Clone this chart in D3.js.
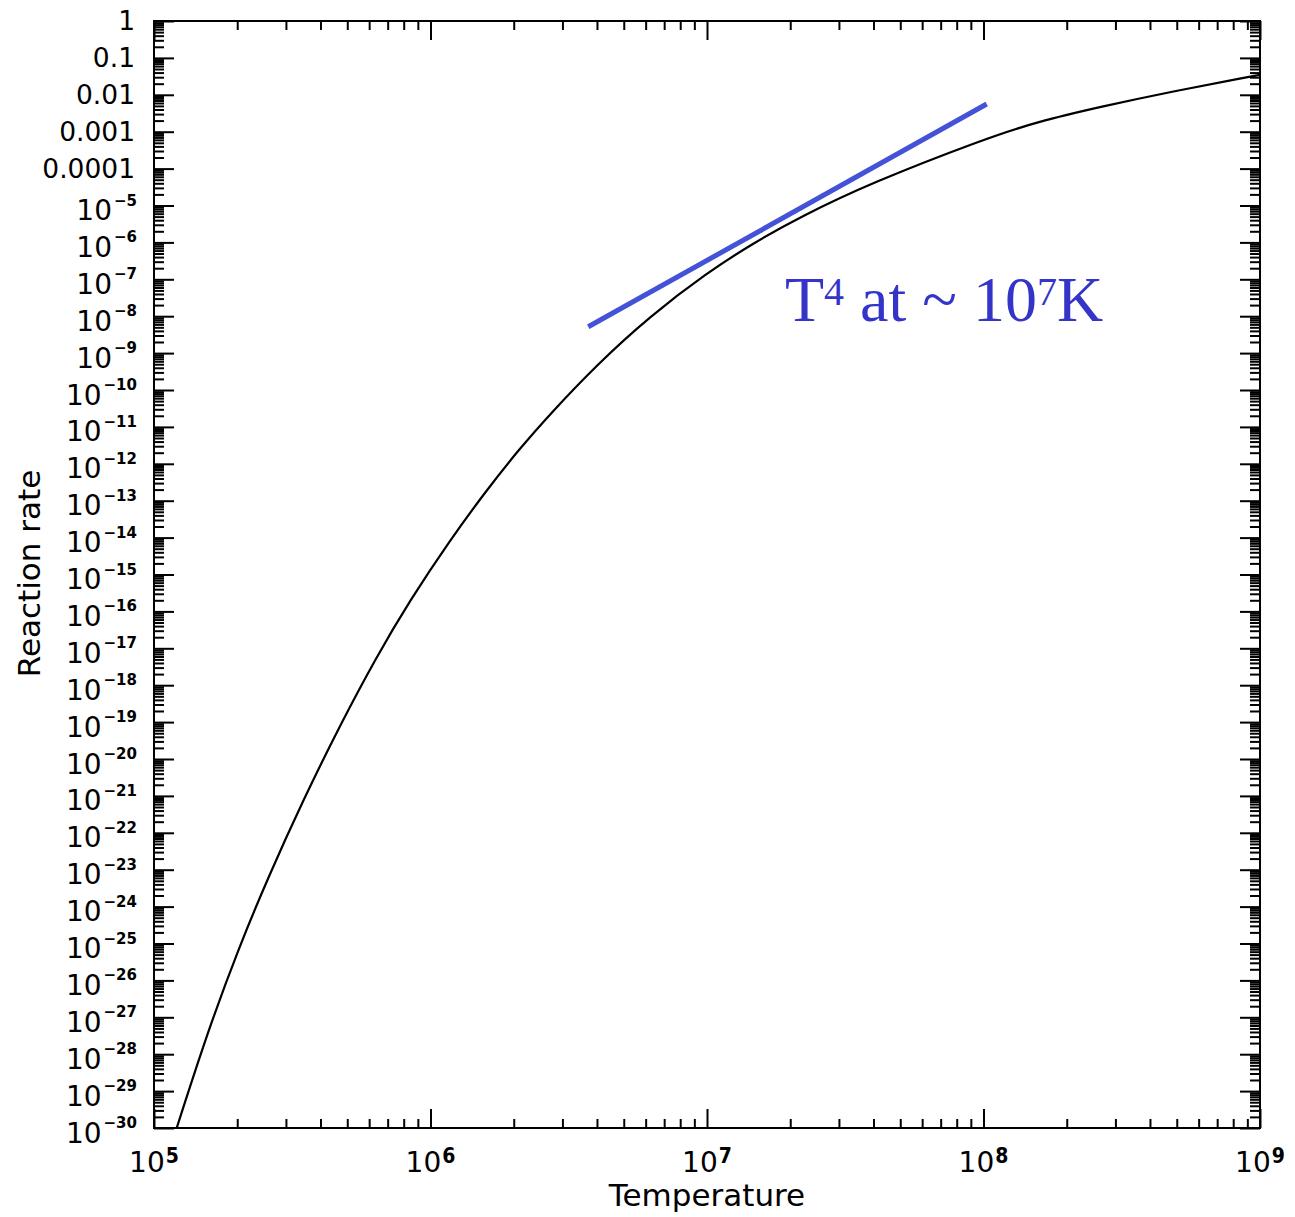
<!DOCTYPE html>
<html>
<head>
<meta charset="utf-8">
<script src="https://cdn.jsdelivr.net/npm/d3@7"></script>
<style>
  html, body { margin: 0; padding: 0; background: #fff; }
  svg { display: block; }
</style>
</head>
<body>
<svg id="chart" width="1295" height="1217"></svg>
<script>
// ---- data ----
const temperature = [1.208e5, 1.571e5, 2.018e5, 2.59e5, 3.46e5, 4.71e5, 6.38e5, 8.43e5,
  1.176e6, 1.597e6, 2.078e6, 2.704e6, 3.99e6, 6.22e6, 9.98e6, 1.47e7, 2.17e7, 3.89e7,
  1.0e8, 1.557e8, 2.71e8, 4.73e8, 9.2e8, 1.0e9];
const reactionRate = [1.0e-30, 4.47e-28, 7.1e-26, 6.3e-24, 7.6e-22, 8.3e-20, 5.9e-18, 2.0e-16,
  8.5e-15, 1.95e-13, 2.34e-12, 2.22e-11, 4.8e-10, 1.0e-8, 1.48e-7, 9.6e-7, 4.86e-6, 4.0e-5,
  6.2e-4, 1.85e-3, 4.9e-3, 1.2e-2, 3.1e-2, 3.46e-2];
const powerLawT = [3.72e6, 1.027e8];
const powerLawRate = [5.16e-9, 5.62e-3];
const xTickExponents = [5, 6, 7, 8, 9];
const yDecimalLabels = ["1", "0.1", "0.01", "0.001", "0.0001"];
const yTickExponents = d3.range(0, -31, -1);
const annotation = { base: "T", sup1: "4", mid: " at ~ 10", sup2: "7", tail: "K" };
const xTitle = "Temperature";
const yTitle = "Reaction rate";

// ---- layout ----
const L = 154, R = 1260, T = 21, B = 1128;
const svg = d3.select("#chart");
const x = d3.scaleLog().domain([1e5, 1e9]).range([L, R]);
const y = d3.scaleLog().domain([1e-30, 1]).range([B, T]);

const xMajor = xTickExponents.map(e => Math.pow(10, e));
const xMinor = [];
for (let e = 5; e < 9; e++) for (let k = 2; k <= 9; k++) xMinor.push(k * Math.pow(10, e));
const yMajor = yTickExponents.map(e => Math.pow(10, e));
const yMinor = [];
for (let e = -30; e < 0; e++) for (let k = 2; k <= 9; k++) yMinor.push(k * Math.pow(10, e));

function styleAxis(g) {
  g.select(".domain").remove();
  g.selectAll(".tick line").attr("stroke", "#000").attr("stroke-width", 2);
  g.selectAll(".tick text").remove();
}
// bottom
svg.append("g").attr("transform", `translate(0,${B})`)
  .call(d3.axisBottom(x).tickValues(xMajor).tickSize(-19).tickFormat(() => "")).call(styleAxis);
svg.append("g").attr("transform", `translate(0,${B})`)
  .call(d3.axisBottom(x).tickValues(xMinor).tickSize(-9).tickFormat(() => "")).call(styleAxis);
// top
svg.append("g").attr("transform", `translate(0,${T})`)
  .call(d3.axisTop(x).tickValues(xMajor).tickSize(-19).tickFormat(() => "")).call(styleAxis);
svg.append("g").attr("transform", `translate(0,${T})`)
  .call(d3.axisTop(x).tickValues(xMinor).tickSize(-9).tickFormat(() => "")).call(styleAxis);
// left
svg.append("g").attr("transform", `translate(${L},0)`)
  .call(d3.axisLeft(y).tickValues(yMajor).tickSize(-20).tickFormat(() => "")).call(styleAxis);
svg.append("g").attr("transform", `translate(${L},0)`)
  .call(d3.axisLeft(y).tickValues(yMinor).tickSize(-10).tickFormat(() => "")).call(styleAxis);
// right
svg.append("g").attr("transform", `translate(${R},0)`)
  .call(d3.axisRight(y).tickValues(yMajor).tickSize(-20).tickFormat(() => "")).call(styleAxis);
svg.append("g").attr("transform", `translate(${R},0)`)
  .call(d3.axisRight(y).tickValues(yMinor).tickSize(-10).tickFormat(() => "")).call(styleAxis);

// frame
svg.append("rect").attr("x", L).attr("y", T).attr("width", R - L).attr("height", B - T)
  .attr("fill", "none").attr("stroke", "#000").attr("stroke-width", 2);

// x tick labels
const font = "'DejaVu Sans', sans-serif";
xTickExponents.forEach(e => {
  const t = svg.append("text").attr("x", x(Math.pow(10, e))).attr("y", B + 44)
    .attr("text-anchor", "middle").attr("font-family", font).attr("fill", "#000");
  t.append("tspan").attr("font-size", 28).text("10");
  t.append("tspan").attr("font-size", 21).attr("font-weight", "bold")
    .attr("font-stretch", "condensed").attr("dy", -9).attr("dx", 1).text(String(e));
});

// y tick labels
yTickExponents.forEach((e, i) => {
  const yy = y(Math.pow(10, e));
  if (i < yDecimalLabels.length) {
    svg.append("text").attr("x", 135).attr("y", yy + 9)
      .attr("text-anchor", "end").attr("font-family", font).attr("font-size", 26.5)
      .attr("fill", "#000").text(yDecimalLabels[i]);
  } else {
    const t = svg.append("text").attr("x", 137).attr("y", yy + 14.5)
      .attr("text-anchor", "end").attr("font-family", font).attr("fill", "#000");
    t.append("tspan").attr("font-size", 28).text("10");
    t.append("tspan").attr("font-size", 15).attr("font-weight", "bold")
      .attr("dy", -14.5).attr("dx", 2).text("\u2212" + String(-e));
  }
});

// axis titles
svg.append("text").attr("x", (L + R) / 2).attr("y", 1206)
  .attr("text-anchor", "middle").attr("font-family", font).attr("font-size", 31)
  .attr("font-weight", 500).attr("fill", "#000").text(xTitle);
svg.append("text").attr("transform", `translate(40,${(T + B) / 2 - 1}) rotate(-90)`)
  .attr("text-anchor", "middle").attr("font-family", font).attr("font-size", 31)
  .attr("font-weight", 500).attr("fill", "#000").text(yTitle);

// clip
svg.append("clipPath").attr("id", "plotclip").append("rect")
  .attr("x", L).attr("y", T).attr("width", R - L).attr("height", B - T);

// curve
const pts = temperature.map((t, i) => [t, reactionRate[i]]);
svg.append("path").datum(pts).attr("clip-path", "url(#plotclip)")
  .attr("d", d3.line().x(d => x(d[0])).y(d => y(d[1])).curve(d3.curveBasis))
  .attr("fill", "none").attr("stroke", "#000").attr("stroke-width", 2.2);

// power-law line
const pl = powerLawT.map((t, i) => [t, powerLawRate[i]]);
svg.append("path").datum(pl)
  .attr("d", d3.line().x(d => x(d[0])).y(d => y(d[1])))
  .attr("fill", "none").attr("stroke", "#4352D6").attr("stroke-width", 5);

// annotation
const ann = svg.append("text").attr("x", 785).attr("y", 321)
  .attr("font-family", "'Liberation Serif', 'Times New Roman', serif").attr("font-size", 64)
  .attr("fill", "#3434C9");
ann.append("tspan").text(annotation.base);
ann.append("tspan").attr("font-size", 40).attr("dy", -16).text(annotation.sup1);
ann.append("tspan").attr("dy", 16).text(annotation.mid);
ann.append("tspan").attr("font-size", 40).attr("dy", -16).text(annotation.sup2);
ann.append("tspan").attr("dy", 16).text(annotation.tail);
</script>
</body>
</html>
